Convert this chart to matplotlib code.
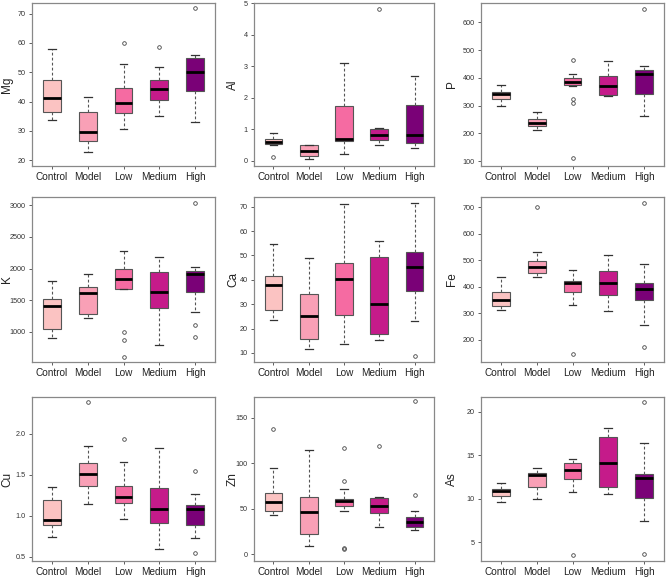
import numpy as np
import matplotlib.pyplot as plt

# groups and box colours (RdPu-like)
groups = ['Control', 'Model', 'Low', 'Medium', 'High']
colors = ['#FBC3C2', '#F9A0B6', '#F56BA2', '#C51B8A', '#7A0177']

# each group: (whislo, q1, median, q3, whishi, [fliers])
mg = [(33.8, 36.3, 41.1, 47.4, 57.9, []),
      (22.8, 26.4, 29.6, 36.3, 41.4, []),
      (30.5, 36.0, 39.5, 44.7, 52.9, [59.9]),
      (34.9, 40.4, 44.4, 47.2, 51.8, [58.5]),
      (33.0, 43.7, 50.2, 54.9, 56.0, [71.8])]
al = [(0.50, 0.53, 0.61, 0.68, 0.90, [0.11]),
      (0.05, 0.16, 0.31, 0.50, 0.52, []),
      (0.22, 0.63, 0.68, 1.75, 3.09, []),
      (0.49, 0.65, 0.83, 1.00, 1.04, [4.82]),
      (0.40, 0.57, 0.83, 1.78, 2.70, [])]
p = [(300, 325, 340, 350, 375, []),
     (212, 228, 238, 252, 278, []),
     (370, 373, 385, 400, 415, [110, 310, 322, 465]),
     (335, 338, 372, 408, 462, []),
     (263, 343, 415, 428, 442, [650])]
k = [(893, 1037, 1400, 1517, 1805, []),
     (1224, 1288, 1613, 1704, 1917, []),
     (1677, 1683, 1827, 1997, 2280, [995, 867, 600]),
     (797, 1379, 1635, 1944, 2184, []),
     (1309, 1629, 1917, 1955, 2019, [3037, 1101, 909])]
ca = [(23.4, 27.7, 37.7, 41.4, 54.6, []),
      (11.5, 15.9, 25.1, 34.1, 49.0, []),
      (13.6, 25.6, 40.4, 47.0, 71.0, []),
      (15.5, 17.8, 30.1, 49.2, 56.0, []),
      (23.3, 35.6, 45.2, 51.4, 71.4, [8.8])]
fe = [(311, 325, 348, 380, 436, []),
      (436, 451, 476, 497, 530, [700]),
      (331, 380, 412, 423, 463, [145]),
      (308, 368, 413, 458, 520, []),
      (256, 351, 392, 413, 484, [716, 171])]
cu = [(0.738, 0.883, 0.956, 1.20, 1.355, []),
      (1.145, 1.367, 1.516, 1.649, 1.847, [2.39]),
      (0.96, 1.161, 1.234, 1.363, 1.661, [1.94]),
      (0.60, 0.915, 1.089, 1.34, 1.83, []),
      (0.734, 0.887, 1.085, 1.129, 1.27, [1.544, 0.544])]
zn = [(42.8, 47.9, 57.4, 67.9, 95.1, [137.6]),
      (9.1, 22.5, 46.8, 63.6, 114.8, []),
      (47.2, 53.4, 59.2, 61.0, 71.5, [117, 80.6, 7.3, 5.4]),
      (30.5, 45.8, 53.0, 62.1, 62.8, [118.8]),
      (27.2, 29.8, 35.2, 41.0, 47.9, [168.1, 65.7])]
as_ = [(9.63, 10.3, 10.86, 11.1, 11.8, []),
       (10.0, 11.4, 12.7, 12.94, 13.5, []),
       (10.74, 12.3, 13.25, 14.06, 14.6, [3.5]),
       (10.6, 11.4, 14.1, 17.1, 18.1, []),
       (7.47, 10.1, 12.44, 12.8, 16.4, [21.1, 3.6])]

panels = [('Mg', mg, (18.0, 73.6), [20, 30, 40, 50, 60, 70]),
          ('Al', al, (-0.16, 5.0), [0, 1, 2, 3, 4, 5]),
          ('P', p, (82, 670), [100, 200, 300, 400, 500, 600]),
          ('K', k, (520, 3133), [1000, 1500, 2000, 2500, 3000]),
          ('Ca', ca, (6.3, 74), [10, 20, 30, 40, 50, 60, 70]),
          ('Fe', fe, (115, 739), [200, 300, 400, 500, 600, 700]),
          ('Cu', cu, (0.45, 2.45), [0.5, 1.0, 1.5, 2.0]),
          ('Zn', zn, (-7.3, 173), [0, 50, 100, 150]),
          ('As', as_, (2.84, 21.7), [5, 10, 15, 20])]

W, H = 666, 577
cols = [(32, 215), (254, 434), (481, 664)]
rows = [(3, 166), (197, 362), (397, 561)]
label_off = [19, 15, 23]   # px from axes left to y-label right edge

plt.rcParams['font.family'] = ['Liberation Sans', 'DejaVu Sans']
fig = plt.figure(figsize=(W / 100, H / 100), dpi=100)

for i, (name, data, ylim, yticks) in enumerate(panels):
    x0, x1 = cols[i % 3]
    y0, y1 = rows[i // 3]
    ax = fig.add_axes([x0 / W, 1 - y1 / H, (x1 - x0) / W, (y1 - y0) / H])
    stats = []
    for g, (lo, q1, med, q3, hi, fl) in zip(groups, data):
        stats.append(dict(label=g, whislo=lo, q1=q1, med=med, q3=q3,
                          whishi=hi, fliers=fl))
    bp = ax.bxp(stats, positions=range(1, 6), widths=0.5, patch_artist=True,
                capwidths=0.22,
                boxprops=dict(edgecolor='#555555', linewidth=0.8),
                medianprops=dict(color='black', linewidth=2.0),
                whiskerprops=dict(color='#555555', linestyle=(0, (2.5, 2)), linewidth=0.8),
                capprops=dict(color='#333333', linewidth=0.9),
                flierprops=dict(marker='o', markersize=2.6, markerfacecolor='none',
                                markeredgecolor='#444444', markeredgewidth=0.6))
    for box, c in zip(bp['boxes'], colors):
        box.set_facecolor(c)
    ax.set_xlim(0.45, 5.55)
    ax.set_ylim(*ylim)
    ax.set_yticks(yticks)
    if name == 'Cu':
        ax.set_yticklabels(['%.1f' % t for t in yticks])
    ax.set_xticks(range(1, 6))
    ax.set_xticklabels(groups, fontsize=7.2, color='#222222')
    ax.tick_params(axis='x', length=2.5, width=0.6, color='#444444', pad=2)
    ax.tick_params(axis='y', labelsize=5.2, length=2.5, width=0.6,
                   color='#444444', labelcolor='#333333', pad=2)
    ax.set_ylabel(name, fontsize=8.5, color='#222222')
    ax.yaxis.set_label_coords(-label_off[i % 3] / (x1 - x0), 0.5)
    for s in ax.spines.values():
        s.set_color('#888888')
        s.set_linewidth(0.9)

fig.savefig('out.png', dpi=100)
